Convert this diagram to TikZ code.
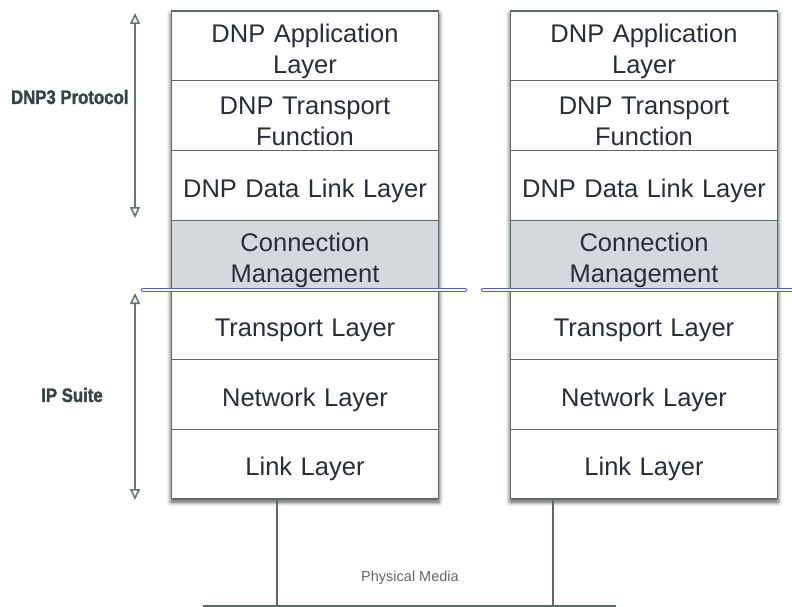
\documentclass[tikz,border=0pt]{standalone}
\usepackage{fontspec}
\setmainfont{Liberation Sans}
\newfontfamily\heavylbl[FakeStretch=0.86, FakeBold=1.6]{Liberation Sans Bold}
\usetikzlibrary{arrows.meta, shadows.blur}
\definecolor{txtgray}{RGB}{40,46,56}
\definecolor{edgegray}{RGB}{92,106,108}
\definecolor{cmfill}{RGB}{212,217,221}
\definecolor{sepblue}{RGB}{85,95,205}
\definecolor{arrgray}{RGB}{105,118,118}
\definecolor{lblgray}{RGB}{55,68,70}
\tikzset{
  layer/.style={draw=edgegray, line width=1.1pt, fill=white, minimum width=267pt,
    minimum height=69.7pt, text width=260pt, align=center, inner sep=0pt,
    font=\fontsize{25.5}{31}\selectfont, text=txtgray,
    execute at begin node={\rule{0pt}{29pt}}},
  cmlayer/.style={layer, fill=cmfill},
  span/.style={{Triangle[open,length=11pt,width=10pt]}-{Triangle[open,length=11pt,width=10pt]},
    draw=arrgray, line width=1.6pt},
  side/.style={font=\fontsize{19.5}{22}\heavylbl, text=lblgray},
  stackbg/.style={fill=white, blur shadow={shadow xshift=0pt, shadow yshift=-3pt,
    shadow blur radius=4.5pt, shadow opacity=70}}
}

\begin{document}
\begin{tikzpicture}[x=1pt, y=-1pt]
            \useasboundingbox (0,0) rectangle (792,607);
            % shadows behind the two stacks
            \fill[stackbg] (171,11) rectangle (439,499);
            \fill[stackbg] (510,11) rectangle (778,499);

            % left stack
            \node[layer] (lApp) at (305,45.85) {DNP Application\\Layer};
            \node[layer] (lTrf) at (305,115.55) {DNP Transport\\Function};
            \node[layer] (lDll) at (305,185.25) {DNP Data Link Layer};
            \node[cmlayer] (lCm) at (305,254.95) {Connection\\Management};
            \node[layer] (lTrl) at (305,324.65) {Transport Layer};
            \node[layer] (lNet) at (305,394.35) {Network Layer};
            \node[layer] (lLink) at (305,464.05) {Link Layer};

            % right stack
            \node[layer] (rApp) at (644,45.85) {DNP Application\\Layer};
            \node[layer] (rTrf) at (644,115.55) {DNP Transport\\Function};
            \node[layer] (rDll) at (644,185.25) {DNP Data Link Layer};
            \node[cmlayer] (rCm) at (644,254.95) {Connection\\Management};
            \node[layer] (rTrl) at (644,324.65) {Transport Layer};
            \node[layer] (rNet) at (644,394.35) {Network Layer};
            \node[layer] (rLink) at (644,464.05) {Link Layer};

            % separator between DNP3 and IP suite
            \coordinate (sepLa) at (143,290);
            \coordinate (sepLb) at (465,290);
            \coordinate (sepRa) at (483,290);
            \coordinate (sepRb) at (800,290);
            \draw[sepblue, line width=0.9pt, double=white, double distance=2.6pt, line cap=round] (sepLa) -- (sepLb);
            \draw[sepblue, line width=0.9pt, double=white, double distance=2.6pt, line cap=round] (sepRa) -- (sepRb);

            % span arrows and their labels
            \coordinate (dnpTop) at (135,13);
            \coordinate (dnpBot) at (135,218);
            \coordinate (ipTop) at (135,293);
            \coordinate (ipBot) at (135,500);
            \draw[span] (dnpTop) -- (dnpBot);
            \draw[span] (ipTop) -- (ipBot);
            \node[side, anchor=east] (dnpLbl) at (132,97) {DNP3 Protocol};
            \node[side] (ipLbl) at (72,395) {IP Suite};

            % physical media
            \coordinate (busL) at (203,606);
            \coordinate (busR) at (616,606);
            \coordinate (tapL) at (277,606);
            \coordinate (tapR) at (553,606);
            \draw[edgegray, line width=1.2pt] (lLink.south -| tapL) -- (tapL);
            \draw[edgegray, line width=1.2pt] (rLink.south -| tapR) -- (tapR);
            \draw[edgegray, line width=1.6pt] (busL) -- (busR);
            \node[font=\fontsize{14.5}{17}\selectfont, text=gray!80!black] (phys) at (410,578) {Physical Media};
\end{tikzpicture}
\end{document}
